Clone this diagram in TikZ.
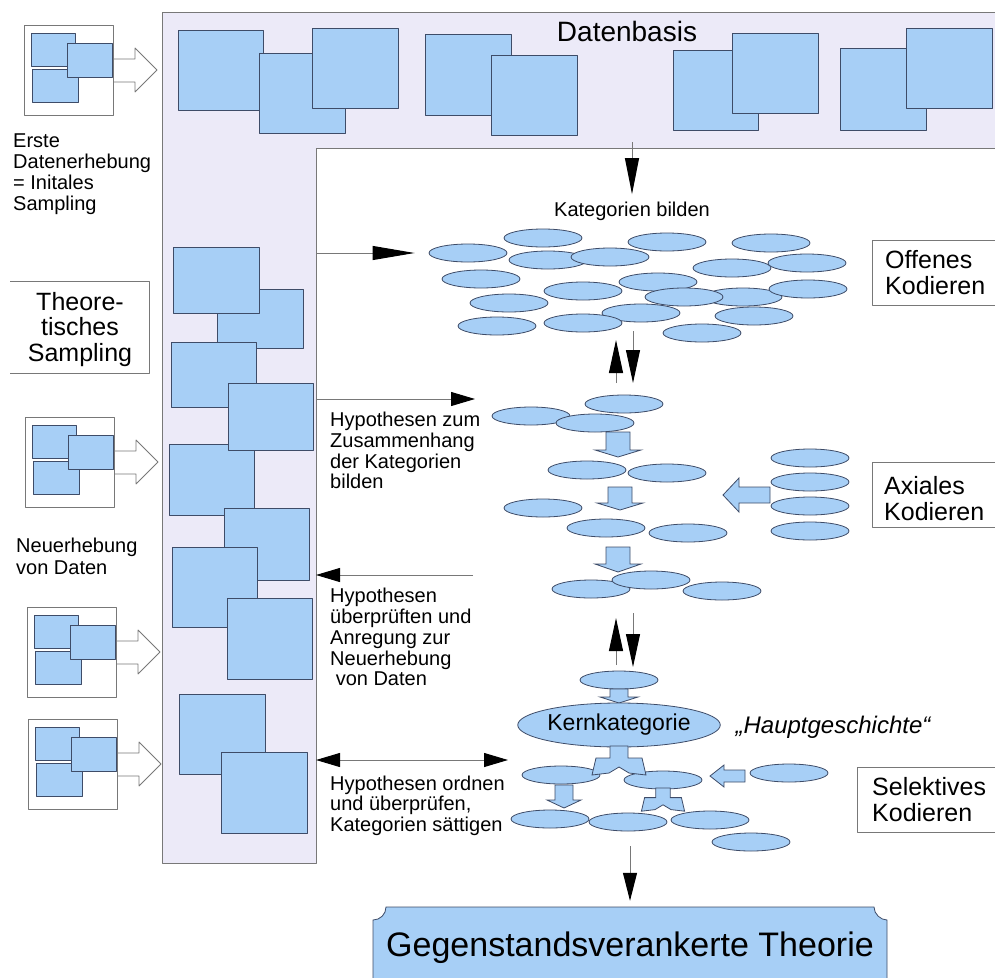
\documentclass[tikz,border=0pt]{standalone}
\usepackage{fontspec}
\setmainfont{Liberation Sans}
\usepackage{tikz}
\usetikzlibrary{arrows.meta}
\usetikzlibrary{shapes.geometric}

\definecolor{sheetblue}{RGB}{167,207,246}
\definecolor{sheetline}{RGB}{62,76,104}
\definecolor{lavender}{RGB}{236,234,248}
\definecolor{linegray}{RGB}{120,120,120}

\tikzset{
  sheet/.style={draw=sheetline, fill=sheetblue, line width=0.8pt},
  cat/.style={ellipse, draw=sheetline, fill=sheetblue, line width=0.8pt,
    minimum width=78pt, minimum height=18pt, inner sep=0pt},
  labelbox/.style={draw=linegray, fill=white, line width=0.8pt},
  flow/.style={draw=linegray, line width=1pt, -{Triangle[length=#1, width=14pt, color=black]}},
  flow/.default=24pt,
  bothflow/.style={draw=linegray, line width=1pt,
    {Triangle[length=24pt, width=14pt, color=black]}-{Triangle[length=24pt, width=14pt, color=black]}},
  blockarrow/.style={draw=sheetline, fill=sheetblue, line width=0.8pt, line join=miter},
  hollowarrow/.style={draw=linegray, fill=white, line width=0.8pt},
  txt/.style={inner sep=0pt, align=left, anchor=north west, font=\fontsize{20}{20.7}\selectfont},
  boxtxt/.style={inner sep=0pt, align=left, anchor=north west, font=\fontsize{25}{26.5}\selectfont},
  datapack/.pic={
    \draw[hollowarrow] (89,34) -- (111,34) -- (111,23) -- (133,45) -- (111,67) -- (111,57) -- (89,57);
    \draw[labelbox] (0,0) rectangle (89,90);
    \draw[sheet] (7,8) rectangle (51,41);
    \draw[sheet] (8,44) rectangle (54,77);
    \draw[sheet] (43,18) rectangle (88,52);
  },
  fork/.pic={
    \draw[blockarrow] (-9,0) -- (9,0) -- (9,12) -- (23,12) -- (27,29) -- (10,27) -- (0,21)
      -- (-10,27) -- (-27,29) -- (-23,12) -- (-9,12) -- cycle;
  }
}

% x, top, bottom, shaft half width, head half width, head length
\newcommand{\blockdown}[6]{%
  \draw[blockarrow] (#1-#4,#2) -- (#1+#4,#2) -- (#1+#4,#3-#6) -- (#1+#5,#3-#6) -- (#1,#3)
    -- (#1-#5,#3-#6) -- (#1-#4,#3-#6) -- cycle;}
% tail x, tip x, y, shaft half width, head half width, head length
\newcommand{\blockleft}[6]{%
  \draw[blockarrow] (#1,#3-#4) -- (#2+#6,#3-#4) -- (#2+#6,#3-#5) -- (#2,#3) -- (#2+#6,#3+#5)
    -- (#2+#6,#3+#4) -- (#1,#3+#4) -- cycle;}

\begin{document}
\begin{tikzpicture}[x=1pt, y=-1pt, line join=round]
\useasboundingbox (0,0) rectangle (995,977);
\clip (0,0) rectangle (995,977);

% Datenbasis und Sampling-Spalte
\draw[draw=linegray, fill=lavender, line width=0.8pt]
  (162,12) -- (1000,12) -- (1000,148) -- (316,148) -- (316,863) -- (162,863) -- cycle;
\foreach \xa/\ya/\xb/\yb in {178/30/263/110, 259/53/345/133, 312/28/398/108,
    425/34/511/115, 491/55/577/135, 673/50/758/130, 732/33/818/113,
    840/48/926/130, 906/28/992/108}
  \draw[sheet] (\xa,\ya) rectangle (\xb,\yb);
\foreach \xa/\ya/\xb/\yb in {217/289/303/348, 173/247/259/313, 171/342/256/407,
    169/444/254/515, 228/383/313/450, 224/508/309/580, 172/547/257/627,
    227/598/312/679, 179/694/265/774, 221/752/307/833}
  \draw[sheet] (\xa,\ya) rectangle (\xb,\yb);
\node[font=\fontsize{28}{30}\selectfont] (datenbasis) at (627,31) {Datenbasis};

% Erhebungen links
\pic at (24,25) {datapack};
\pic at (25,417) {datapack};
\pic at (27,607) {datapack};
\pic at (28,719) {datapack};
\node[txt] (erste) at (13,134) {Erste\\Datenerhebung\\= Initales\\Sampling};
\node[txt, font=\fontsize{20}{22}\selectfont] (neu) at (16,538) {Neuerhebung\\von Daten};
\draw[labelbox] (10,281) -- (149,281) -- (149,373) -- (10,373);
\node[inner sep=0pt, anchor=north, align=center, font=\fontsize{25}{25.5}\selectfont]
  (theo) at (80,292) {Theore-\\tisches\\Sampling};

% Kodierphasen rechts
\draw[labelbox] (872,240) rectangle (1000,305);
\node[boxtxt] (offen) at (885,250) {Offenes\\Kodieren};
\draw[labelbox] (872,462) rectangle (1000,527);
\node[boxtxt] (axial) at (884,476) {Axiales\\Kodieren};
\draw[labelbox] (857,767) rectangle (1000,832);
\node[boxtxt] (selektiv) at (872,777) {Selektives\\Kodieren};

% offenes Kodieren
\node[font=\fontsize{20}{22}\selectfont] (kat) at (632,211) {Kategorien bilden};
\foreach \x/\y [count=\i] in {543/238, 468/253, 548/260, 610/257, 667/242, 771/243,
    481/279, 732/268, 807/263, 583/291, 658/282, 743/297, 808/289, 509/303,
    641/313, 684/297, 754/316, 497/326, 583/323, 702/333}
  \node[cat] (o\i) at (\x,\y) {};

% axiales Kodieren
\foreach \x/\y [count=\i] in {624/404, 531/416, 595/423, 587/470, 667/473,
    543/508, 606/528, 688/533, 591/589, 651/580, 722/591}
  \node[cat] (a\i) at (\x,\y) {};
\foreach \y [count=\i] in {458, 482, 506, 531}
  \node[cat] (r\i) at (810,\y) {};
\blockdown{618}{432}{457}{12}{23}{7}
\blockdown{620}{487}{510}{12}{23}{7}
\blockdown{618}{547}{572}{12}{23}{8}
\blockleft{770}{723}{495}{8}{17}{16}

% selektives Kodieren
\node[cat] (b1) at (619,680) {};
\blockdown{619}{689}{703}{9}{19}{6}
\node[cat, minimum width=182pt, minimum height=44pt, font=\fontsize{23}{24}\selectfont]
  (kern) at (619,725) {Kernkategorie};
\node[font=\itshape\fontsize{24}{26}\selectfont] (story) at (833,727) {„Hauptgeschichte“};
\node[cat] (s1) at (561,775) {};
\node[cat] (s2) at (663,780) {};
\node[cat] (s3) at (789,773) {};
\foreach \x/\y [count=\i] in {550/819, 628/822, 710/820, 751/842}
  \node[cat] (t\i) at (\x,\y) {};
\pic at (619,746) {fork};
\pic[scale=0.8] at (663,788) {fork};
\blockdown{564}{785}{808}{9}{17}{8}
\blockleft{745}{710}{776}{6}{11}{14}

% Hypothesen
\node[txt] (hyp1) at (330,412) {Hypothesen zum\\Zusammenhang\\der Kategorien\\bilden};
\node[txt, font=\fontsize{20}{20.8}\selectfont] (hyp2) at (330,588)
  {Hypothesen\\überprüften und\\Anregung zur\\Neuerhebung\\\ von Daten};
\node[txt, font=\fontsize{20}{20.2}\selectfont] (hyp3) at (330,776)
  {Hypothesen ordnen\\und überprüfen,\\Kategorien sättigen};

% Pfeile
\coordinate (dbfoot) at (632,142);
\coordinate (col1) at (316,253);
\coordinate (col2) at (316,399);
\coordinate (hz) at (475,399);
\coordinate (col3) at (316,575);
\coordinate (ue) at (473,575);
\coordinate (col4) at (316,760);
\coordinate (ord) at (508,760);
\coordinate (upa) at (616,383);
\coordinate (upb) at (616,340);
\coordinate (dna) at (633,331);
\coordinate (dnb) at (633,383);
\coordinate (upc) at (616,665);
\coordinate (upd) at (616,618);
\coordinate (dnc) at (633,613);
\coordinate (dnd) at (633,667);
\coordinate (fin) at (630,846);
\draw[flow=36pt, shorten >=4pt] (dbfoot) -- (kat.north);
\draw[flow=42pt, shorten >=14pt] (col1) -- (o2.west);
\draw[flow=33pt] (upa) -- (upb);
\draw[flow=33pt] (dna) -- (dnb);
\draw[flow] (col2) -- (hz);
\draw[flow] (ue) -- (col3);
\draw[flow=33pt] (upc) -- (upd);
\draw[flow=33pt] (dnc) -- (dnd);
\draw[bothflow] (col4) -- (ord);

% Ergebnis
\draw[blockarrow] (386,907) -- (874,907) .. controls (874,914.2) and (880.8,920) .. (887,920)
  -- (887,995) -- (373,995) -- (373,920) .. controls (380.2,920) and (386,914.2) .. (386,907) -- cycle;
\node[minimum width=514pt, minimum height=82pt, inner sep=0pt, font=\fontsize{34}{36}\selectfont]
  (gt) at (630,948) {Gegenstandsverankerte Theorie};
\draw[flow=28pt, shorten >=6pt] (fin) -- (gt.north);
\end{tikzpicture}
\end{document}
